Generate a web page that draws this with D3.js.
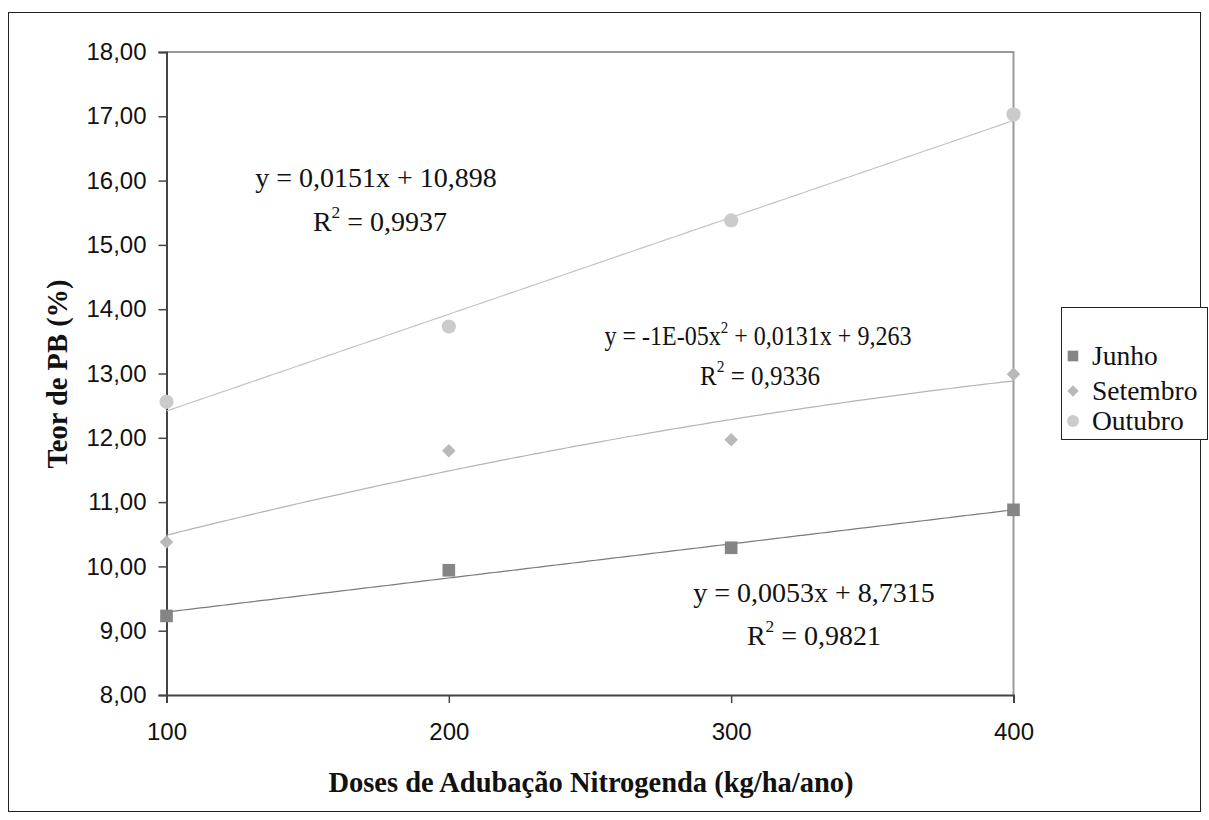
<!DOCTYPE html>
<html>
<head>
<meta charset="utf-8">
<script src="https://cdn.jsdelivr.net/npm/d3@7/dist/d3.min.js"></script>
<style>
  html, body { margin: 0; padding: 0; background: #fff; }
  svg { display: block; }
</style>
</head>
<body>
<svg id="chart" width="1209" height="820"></svg>
<script>
// ---- data ----
const doses = [100, 200, 300, 400];
const junho = [9.23, 9.94, 10.29, 10.88];
const setembro = [10.38, 11.80, 11.97, 12.99];
const outubro = [12.56, 13.73, 15.38, 17.03];
const yTicks = [8, 9, 10, 11, 12, 13, 14, 15, 16, 17, 18];
const xTicks = [100, 200, 300, 400];
const seriesNames = ["Junho", "Setembro", "Outubro"];
const equations = [
  { name: "Junho", line1: ["y = 0,0053x + 8,7315"], r2: "0,9821" },
  { name: "Setembro", line1: ["y = -1E-05x", "2", " + 0,0131x + 9,263"], r2: "0,9336" },
  { name: "Outubro", line1: ["y = 0,0151x + 10,898"], r2: "0,9937" }
];

// ---- helpers: least squares fits ----
function solve(A, b) {
  const n = b.length;
  const M = A.map((r, i) => r.concat([b[i]]));
  for (let c = 0; c < n; c++) {
    let p = c;
    for (let r = c + 1; r < n; r++) if (Math.abs(M[r][c]) > Math.abs(M[p][c])) p = r;
    [M[c], M[p]] = [M[p], M[c]];
    for (let r = 0; r < n; r++) {
      if (r === c) continue;
      const f = M[r][c] / M[c][c];
      for (let k = c; k <= n; k++) M[r][k] -= f * M[c][k];
    }
  }
  return M.map((r, i) => r[n] / r[i]);
}
function polyfit(xs, ys, deg) {
  const n = deg + 1;
  const A = [], b = [];
  for (let i = 0; i < n; i++) {
    A.push([]);
    for (let j = 0; j < n; j++) A[i].push(d3.sum(xs, x => Math.pow(x, i + j)));
    b.push(d3.sum(xs.map((x, k) => Math.pow(x, i) * ys[k])));
  }
  const c = solve(A, b);
  return x => c.reduce((s, ci, i) => s + ci * Math.pow(x, i), 0);
}

// ---- layout ----
const svg = d3.select("#chart");
const plot = { left: 166.5, right: 1013.5, top: 52, bottom: 695 };

const x = d3.scaleLinear().domain([100, 400]).range([plot.left, plot.right]);
const y = d3.scaleLinear().domain([8, 18]).range([plot.bottom, plot.top]);

const sans = "Liberation Sans, Arial, sans-serif";
const serif = "Liberation Serif, Times New Roman, serif";

// outer frame
svg.append("rect").attr("x", 8.5).attr("y", 12.5).attr("width", 1192).attr("height", 799)
  .attr("fill", "none").attr("stroke", "#222").attr("stroke-width", 1);

// plot area border (top/right gray)
svg.append("path")
  .attr("d", `M${plot.left},${plot.top}H${plot.right}V${plot.bottom}`)
  .attr("fill", "none").attr("stroke", "#999").attr("stroke-width", 2);

// axes
const yAxis = d3.axisLeft(y).tickValues(yTicks).tickSize(8).tickPadding(12)
  .tickFormat(d => d3.format(".2f")(d).replace(".", ","));
const gy = svg.append("g").attr("transform", `translate(${plot.left},0)`).call(yAxis);
gy.select(".domain").attr("stroke", "#444").attr("stroke-width", 2);
gy.selectAll(".tick line").attr("stroke", "#444").attr("stroke-width", 1.5);
gy.selectAll(".tick text").attr("font-family", sans).attr("font-size", 24).attr("fill", "#111");

const xAxis = d3.axisBottom(x).tickValues(xTicks).tickSize(8).tickPadding(20)
  .tickFormat(d3.format("d"));
const gx = svg.append("g").attr("transform", `translate(0,${plot.bottom})`).call(xAxis);
gx.select(".domain").attr("stroke", "#444").attr("stroke-width", 2);
gx.selectAll(".tick line").attr("stroke", "#444").attr("stroke-width", 1.5);
gx.selectAll(".tick text").attr("font-family", sans).attr("font-size", 24).attr("fill", "#111");

// axis titles
svg.append("text").attr("x", 591).attr("y", 792).attr("text-anchor", "middle")
  .attr("font-family", serif).attr("font-weight", "bold")
  .attr("font-size", 28.5).attr("fill", "#111")
  .text("Doses de Adubação Nitrogenda (kg/ha/ano)");
svg.append("text").attr("transform", "translate(67,374) rotate(-90)").attr("text-anchor", "middle")
  .attr("font-family", serif).attr("font-weight", "bold")
  .attr("font-size", 28.5).attr("fill", "#111")
  .text("Teor de PB (%)");

// trendlines
const fits = {
  Junho: { f: polyfit(doses, junho, 1), color: "#7a7a7a" },
  Setembro: { f: polyfit(doses, setembro, 2), color: "#b4b4b4" },
  Outubro: { f: polyfit(doses, outubro, 1), color: "#c4c4c4" }
};
const xs = d3.range(100, 400.01, 2);
const line = d3.line().x(d => x(d[0])).y(d => y(d[1]));
for (const name of seriesNames) {
  svg.append("path").datum(xs.map(v => [v, fits[name].f(v)]))
    .attr("d", line).attr("fill", "none").attr("stroke", fits[name].color).attr("stroke-width", 1.2);
}

// markers
const markerStyle = {
  Junho: { type: d3.symbolSquare, size: 160, rot: 0, color: "#858585" },
  Setembro: { type: d3.symbolSquare, size: 92, rot: 45, color: "#b9b9b9" },
  Outubro: { type: d3.symbolCircle, size: 160, rot: 0, color: "#cbcbcb" }
};
const seriesData = { Junho: junho, Setembro: setembro, Outubro: outubro };
for (const name of seriesNames) {
  const st = markerStyle[name];
  svg.append("g").selectAll("path").data(doses.map((d, i) => [d, seriesData[name][i]]))
    .join("path")
    .attr("transform", d => `translate(${x(d[0])},${y(d[1])}) rotate(${st.rot})`)
    .attr("d", d3.symbol().type(st.type).size(st.size))
    .attr("fill", st.color);
}

// equations
const eqPos = {
  Outubro: { x1: 376, y1: 187, x2: 380, y2: 231, fs: 28, len1: null, len2: null },
  Setembro: { x1: 758, y1: 345, x2: 760, y2: 385, fs: 27, len1: 307, len2: 120 },
  Junho: { x1: 814, y1: 602, x2: 814, y2: 645, fs: 28, len1: null, len2: null }
};
for (const eq of equations) {
  const p = eqPos[eq.name];
  const t1 = svg.append("text").attr("x", p.x1).attr("y", p.y1).attr("text-anchor", "middle")
    .attr("font-family", serif).attr("font-size", p.fs).attr("fill", "#111");
  if (p.len1) t1.attr("textLength", p.len1).attr("lengthAdjust", "spacingAndGlyphs");
  eq.line1.forEach((s, i) => {
    const ts = t1.append("tspan").text(s);
    if (eq.line1.length === 3 && i === 1) ts.attr("dy", -12).attr("font-size", p.fs * 0.62);
    if (eq.line1.length === 3 && i === 2) ts.attr("dy", 12);
  });
  const t2 = svg.append("text").attr("x", p.x2).attr("y", p.y2).attr("text-anchor", "middle")
    .attr("font-family", serif).attr("font-size", p.fs).attr("fill", "#111");
  if (p.len2) t2.attr("textLength", p.len2).attr("lengthAdjust", "spacingAndGlyphs");
  t2.append("tspan").text("R");
  t2.append("tspan").attr("dy", -13).attr("font-size", p.fs * 0.62).text("2");
  t2.append("tspan").attr("dy", 13).text(" = " + eq.r2);
}

// legend
const lg = svg.append("g");
lg.append("rect").attr("x", 1061.5).attr("y", 307.5).attr("width", 146).attr("height", 132)
  .attr("fill", "#fff").attr("stroke", "#222").attr("stroke-width", 1);
const legY = [356, 391, 421];
seriesNames.forEach((name, i) => {
  const st = markerStyle[name];
  lg.append("path").attr("transform", `translate(1073,${legY[i]}) rotate(${st.rot})`)
    .attr("d", d3.symbol().type(st.type).size(st.size * 0.7)).attr("fill", st.color);
  lg.append("text").attr("x", 1092).attr("y", legY[i] + 9)
    .attr("font-family", serif).attr("font-size", 27.5).attr("fill", "#111").text(name);
});
</script>
</body>
</html>
